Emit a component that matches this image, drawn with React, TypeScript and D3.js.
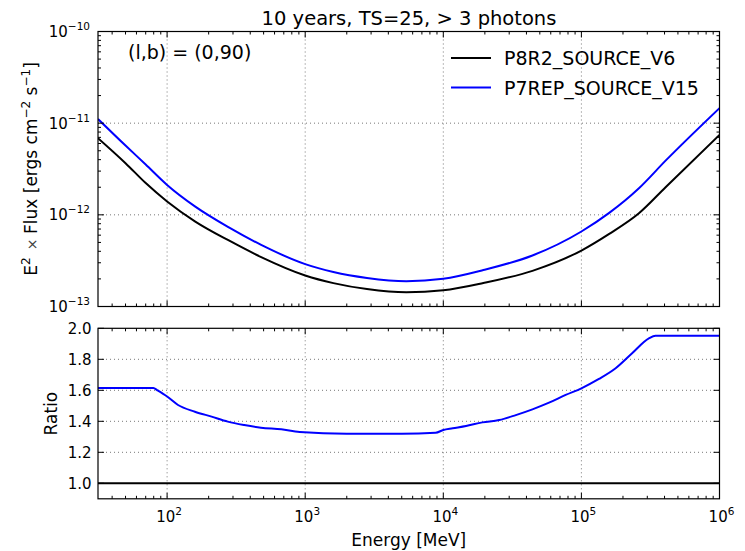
import React from 'react';
import * as d3 from 'd3';

// ---- data ----
const energyFlux = [31.6, 50, 70, 100, 160, 280, 480, 1000, 1600, 2800, 5400, 10000, 19500, 44200, 100000, 159000, 261000, 407000, 1000000];
const fluxP8R2 = [6.86e-12, 3.66e-12, 2.22e-12, 1.40e-12, 8.45e-13, 5.25e-13, 3.46e-13, 2.18e-13, 1.80e-13, 1.55e-13, 1.43e-13, 1.50e-13, 1.80e-13, 2.45e-13, 4.08e-13, 6.2e-13, 1.04e-12, 2.0e-12, 7.45e-12];
const fluxP7REP = [1.11e-11, 5.70e-12, 3.54e-12, 2.12e-12, 1.23e-12, 7.3e-13, 4.7e-13, 2.9e-13, 2.38e-13, 2.05e-13, 1.89e-13, 2.01e-13, 2.5e-13, 3.6e-13, 6.58e-13, 1.05e-12, 1.95e-12, 3.9e-12, 1.46e-11];

const energyRatio = [31.6, 79.6, 85, 100, 120, 159, 210, 275, 362, 478, 671, 912, 2000, 5000, 8800, 10000, 11700, 14600, 19200, 25400, 33500, 44200, 58300, 76900, 100000, 134000, 177000, 233000, 308000, 344000, 1000000];
const ratioP7REP = [1.615, 1.615, 1.60, 1.56, 1.505, 1.462, 1.43, 1.398, 1.376, 1.359, 1.348, 1.331, 1.32, 1.32, 1.326, 1.344, 1.355, 1.37, 1.393, 1.408, 1.44, 1.477, 1.52, 1.57, 1.613, 1.673, 1.742, 1.839, 1.935, 1.952, 1.952];
const energyRatioRef = [31.6, 1000000];
const ratioP8R2 = [1.0, 1.0];

const xTickExps = [2, 3, 4, 5, 6];
const yTopTickExps = [-10, -11, -12, -13];
const yRatioTicks = [1.0, 1.2, 1.4, 1.6, 1.8, 2.0];
const seriesNames = ['P8R2_SOURCE_V6', 'P7REP_SOURCE_V15'];
const seriesColors = ['#000000', '#0000ff'];

const FONT = 'DejaVu Sans, sans-serif';

export default function App() {
  const L = 98, R = 719.5, T1 = 31.5, B1 = 306.5, T2 = 328.3, B2 = 498.8;
  const x = d3.scaleLog().domain([31.6, 1e6]).range([L, R]);
  const yTop = d3.scaleLog().domain([1e-13, 1e-10]).range([B1, T1]);
  const yR = d3.scaleLinear().domain([0.9, 2.0]).range([B2, T2]);

  const lineTop = d3.line<[number, number]>().x(d => x(d[0])).y(d => yTop(d[1])).curve(d3.curveMonotoneX);
  const lineR = d3.line<[number, number]>().x(d => x(d[0])).y(d => yR(d[1])).curve(d3.curveMonotoneX);

  const p8 = energyFlux.map((e, i) => [e, fluxP8R2[i]] as [number, number]);
  const p7 = energyFlux.map((e, i) => [e, fluxP7REP[i]] as [number, number]);
  const r7 = energyRatio.map((e, i) => [e, ratioP7REP[i]] as [number, number]);
  const r8 = energyRatioRef.map((e, i) => [e, ratioP8R2[i]] as [number, number]);

  const xMinor: number[] = [];
  for (let e = 1; e <= 5; e++) for (let m = 2; m <= 9; m++) { const v = m * Math.pow(10, e); if (v >= 31.6 && v <= 1e6) xMinor.push(v); }
  const yMinor: number[] = [];
  for (let e = -13; e <= -11; e++) for (let m = 2; m <= 9; m++) yMinor.push(m * Math.pow(10, e));

  const MAJ = 6, MIN = 3;
  const grid = { stroke: '#777', strokeWidth: 1, strokeDasharray: '1,3' };
  const tk = { stroke: '#000', strokeWidth: 1 };

  const xTicks = (top: number, bottom: number, key: string) => (
    <g key={key}>
      {xTickExps.map(e => {
        const xv = x(Math.pow(10, e));
        return (<g key={e}>
          <line x1={xv} x2={xv} y1={bottom} y2={bottom - MAJ} {...tk} />
          <line x1={xv} x2={xv} y1={top} y2={top + MAJ} {...tk} />
        </g>);
      })}
      {xMinor.map(v => (<g key={v}>
        <line x1={x(v)} x2={x(v)} y1={bottom} y2={bottom - MIN} {...tk} />
        <line x1={x(v)} x2={x(v)} y1={top} y2={top + MIN} {...tk} />
      </g>))}
    </g>
  );

  return (
    <svg width={745} height={551} style={{ position: 'absolute', left: 0, top: 0, background: '#fff' }} fontFamily={FONT}>
      <rect x={0} y={0} width={745} height={551} fill="#fff" />
      <defs>
        <clipPath id="c1"><rect x={L} y={T1} width={R - L} height={B1 - T1} /></clipPath>
        <clipPath id="c2"><rect x={L} y={T2} width={R - L} height={B2 - T2} /></clipPath>
      </defs>

      {/* title */}
      <text x={409} y={25} textAnchor="middle" fontSize={19.5} fill="#000">10 years, TS=25, &gt; 3 photons</text>

      {/* ---- top panel ---- */}
      {xTickExps.filter(e => e < 6).map(e => (
        <line key={'gx' + e} x1={x(Math.pow(10, e))} x2={x(Math.pow(10, e))} y1={T1} y2={B1} {...grid} />
      ))}
      {[-11, -12].map(e => (
        <line key={'gy' + e} x1={L} x2={R} y1={yTop(Math.pow(10, e))} y2={yTop(Math.pow(10, e))} {...grid} />
      ))}
      <g clipPath="url(#c1)">
        <path d={lineTop(p8) || ''} fill="none" stroke={seriesColors[0]} strokeWidth={2} />
        <path d={lineTop(p7) || ''} fill="none" stroke={seriesColors[1]} strokeWidth={2} />
      </g>
      {xTicks(T1, B1, 'xt1')}
      {yTopTickExps.map(e => {
        const yv = yTop(Math.pow(10, e));
        return (<g key={'yt' + e}>
          <line x1={L} x2={L + MAJ} y1={yv} y2={yv} {...tk} />
          <line x1={R} x2={R - MAJ} y1={yv} y2={yv} {...tk} />
          <text x={90} y={yv + 5.5} textAnchor="end" fontSize={15} fill="#000">
            <tspan>10</tspan><tspan dy={-7} fontSize={10.5}>{'\u2212' + Math.abs(e)}</tspan>
          </text>
        </g>);
      })}
      {yMinor.map(v => (<g key={'ym' + v}>
        <line x1={L} x2={L + MIN} y1={yTop(v)} y2={yTop(v)} {...tk} />
        <line x1={R} x2={R - MIN} y1={yTop(v)} y2={yTop(v)} {...tk} />
      </g>))}
      <rect x={L} y={T1} width={R - L} height={B1 - T1} fill="none" stroke="#000" strokeWidth={1.2} />

      <text x={128} y={59} fontSize={19} fill="#000">(l,b) = (0,90)</text>

      {/* legend */}
      {seriesNames.map((n, i) => (
        <g key={n}>
          <line x1={451} x2={491} y1={58 + i * 29.5} y2={58 + i * 29.5} stroke={seriesColors[i]} strokeWidth={2} />
          <text x={504} y={65 + i * 29.5} fontSize={19} fill="#000">{n}</text>
        </g>
      ))}

      {/* y label top */}
      <text transform={`translate(37,${(T1 + B1) / 2}) rotate(-90)`} textAnchor="middle" fontSize={17} fill="#000">
        <tspan>E</tspan><tspan dy={-7} fontSize={12}>2</tspan><tspan dy={7} fill="#444" fontSize={14}>{'\u2009 \u00d7 '}</tspan><tspan>Flux [ergs cm</tspan><tspan dy={-7} fontSize={12}>{'\u22122'}</tspan><tspan dy={7}> s</tspan><tspan dy={-7} fontSize={12}>{'\u22121'}</tspan><tspan dy={7}>]</tspan>
      </text>

      {/* ---- ratio panel ---- */}
      {xTickExps.filter(e => e < 6).map(e => (
        <line key={'gx2' + e} x1={x(Math.pow(10, e))} x2={x(Math.pow(10, e))} y1={T2} y2={B2} {...grid} />
      ))}
      {yRatioTicks.filter(v => v > 1 && v < 2).map(v => (
        <line key={'gr' + v} x1={L} x2={R} y1={yR(v)} y2={yR(v)} {...grid} />
      ))}
      <g clipPath="url(#c2)">
        <path d={lineR(r8) || ''} fill="none" stroke={seriesColors[0]} strokeWidth={2} />
        <path d={lineR(r7) || ''} fill="none" stroke={seriesColors[1]} strokeWidth={2} />
      </g>
      {xTicks(T2, B2, 'xt2')}
      {yRatioTicks.map(v => (<g key={'rt' + v}>
        <line x1={L} x2={L + MAJ} y1={yR(v)} y2={yR(v)} {...tk} />
        <line x1={R} x2={R - MAJ} y1={yR(v)} y2={yR(v)} {...tk} />
        <text x={91.5} y={yR(v) + 5.5} textAnchor="end" fontSize={15} fill="#000">{v.toFixed(1)}</text>
      </g>))}
      <rect x={L} y={T2} width={R - L} height={B2 - T2} fill="none" stroke="#000" strokeWidth={1.2} />

      {xTickExps.map(e => (
        <text key={'xl' + e} x={x(Math.pow(10, e)) + 2} y={521.5} textAnchor="middle" fontSize={15} fill="#000">
          <tspan>10</tspan><tspan dy={-7} fontSize={10.5}>{String(e)}</tspan>
        </text>
      ))}

      <text transform={`translate(57,${(T2 + B2) / 2}) rotate(-90)`} textAnchor="middle" fontSize={17} fill="#000">Ratio</text>
      <text x={(L + R) / 2} y={546} textAnchor="middle" fontSize={17} fill="#000">Energy [MeV]</text>
    </svg>
  );
}
